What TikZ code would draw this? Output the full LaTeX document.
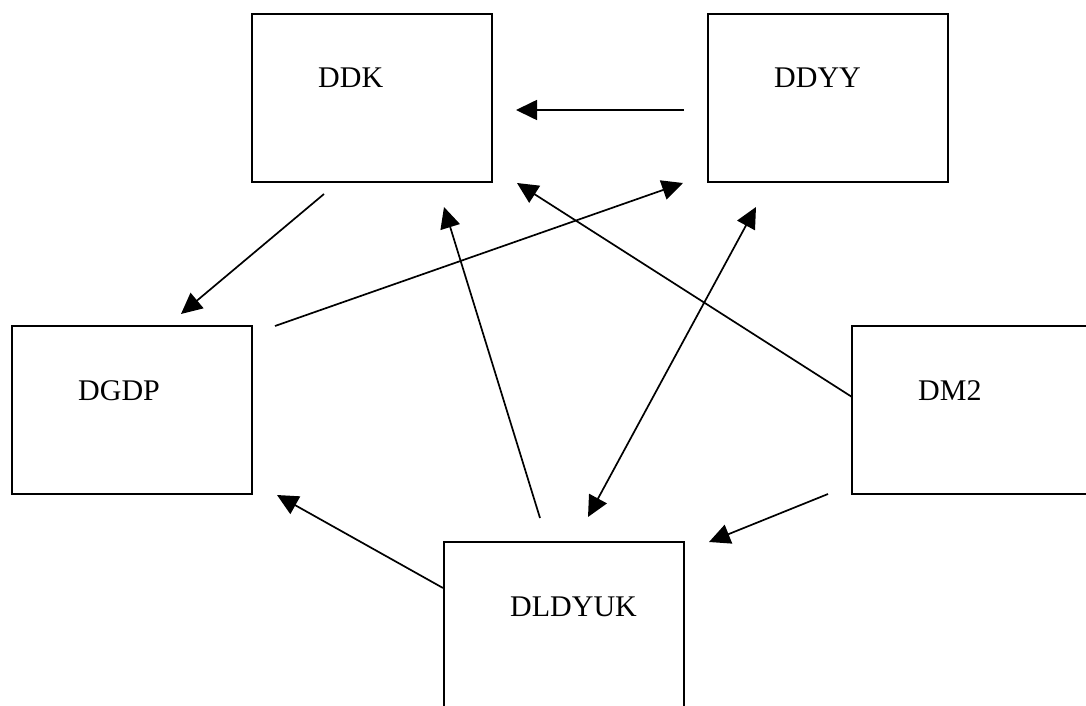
\documentclass[tikz,border=0pt]{standalone}
\usepackage{fontspec}
\setmainfont{Liberation Serif}
\usetikzlibrary{arrows.meta,calc}
\begin{document}
\begin{tikzpicture}[x=1pt,y=-1pt,
  box/.style={draw,line width=1.9pt,minimum width=240pt,minimum height=168pt,
    anchor=north west,inner sep=0pt,outer sep=0pt},
  lbl/.style={anchor=base west,inner sep=0pt,font=\fontsize{30}{36}\selectfont},
  head/.tip={Triangle[length=21pt,width=20pt]},
  link/.style={line width=1.7pt,-head},
  both/.style={line width=1.7pt,head-head}]
\useasboundingbox (0,0) rectangle (1086,706);

% boxes
\node[box] (ddk)    at (252,14)  {};
\node[box] (ddyy)   at (708,14)  {};
\node[box] (dgdp)   at (12,326)  {};
\node[box] (dm2)    at (852,326) {};
\node[box] (dldyuk) at (444,542) {};

% box titles, set near the upper left of each box
\node[lbl] (ddkT)    at ($(ddk.north west)+(66,74)$)    {DDK};
\node[lbl] (ddyyT)   at ($(ddyy.north west)+(66,74)$)   {DDYY};
\node[lbl] (dgdpT)   at ($(dgdp.north west)+(66,74)$)   {DGDP};
\node[lbl] (dm2T)    at ($(dm2.north west)+(66,74)$)    {DM2};
\node[lbl] (dldyukT) at ($(dldyuk.north west)+(66,74)$) {DLDYUK};

% connector end points (they stop short of the boxes)
\coordinate (yyK1) at (684,110);  \coordinate (yyK2) at (516,110);
\coordinate (kGD1) at (324,194);  \coordinate (kGD2) at (181,314);
\coordinate (gdY1) at (275,326);  \coordinate (gdY2) at (683,183);
\coordinate (lK1)  at (540,518);  \coordinate (lK2)  at (444,207);
\coordinate (lY1)  at (588,517);  \coordinate (lY2)  at (756,207);
\coordinate (mK1)  at (852,397);  \coordinate (mK2)  at (517,183);
\coordinate (lG1)  at (443,588);  \coordinate (lG2)  at (277,495);
\coordinate (mL1)  at (828,494);  \coordinate (mL2)  at (709,542);

% connectors
\draw[link] (yyK1) -- (yyK2);
\draw[link] (kGD1) -- (kGD2);
\draw[link] (gdY1) -- (gdY2);
\draw[link] (lK1)  -- (lK2);
\draw[both] (lY1)  -- (lY2);
\draw[link] (mK1)  -- (mK2);
\draw[link] (lG1)  -- (lG2);
\draw[link] (mL1)  -- (mL2);
\end{tikzpicture}
\end{document}
